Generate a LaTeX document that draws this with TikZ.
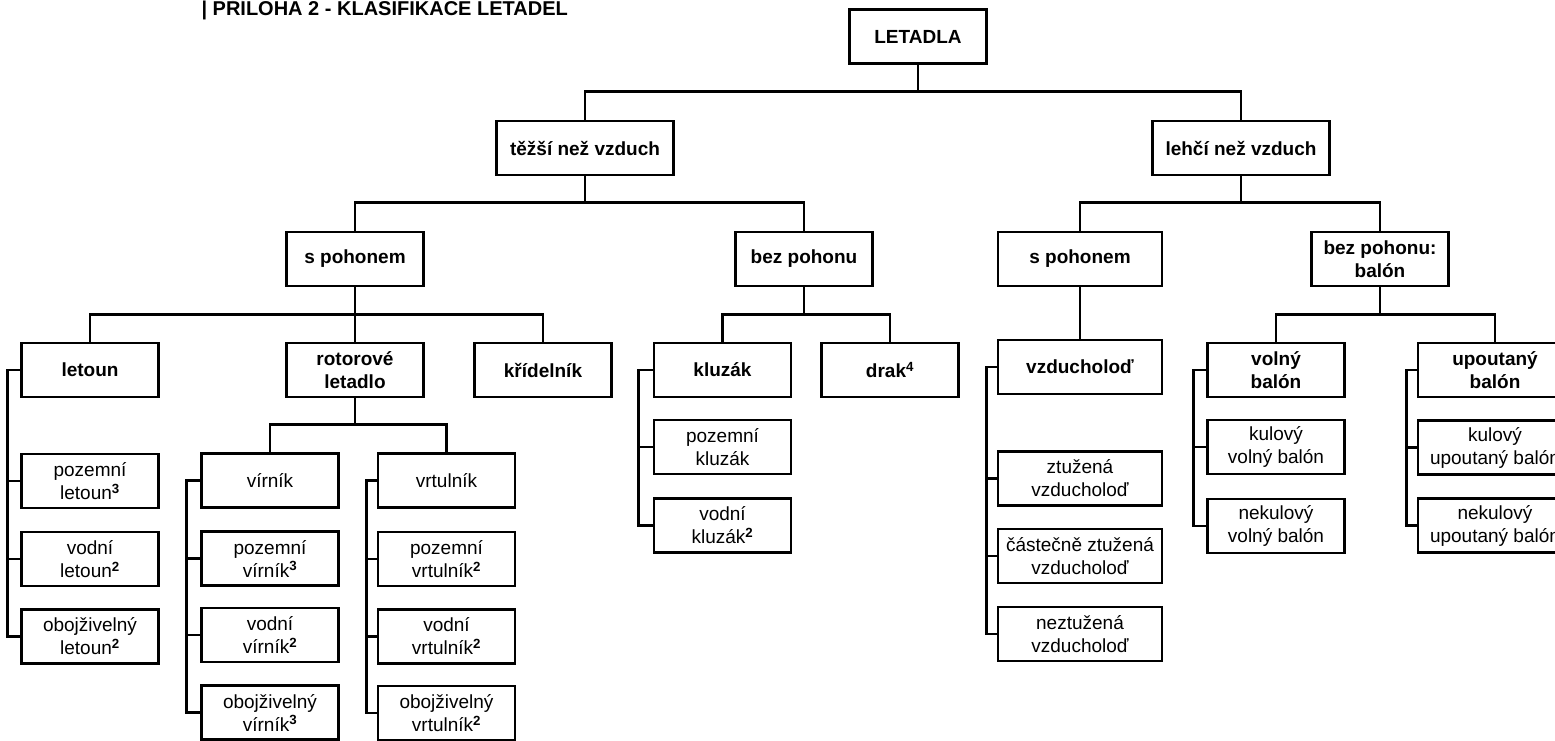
\documentclass[tikz,border=0pt]{standalone}
\usepackage{fontspec}
\setmainfont{Liberation Sans}
\newcommand{\fn}[1]{\textsuperscript{\bfseries #1}}

\begin{document}
\begin{tikzpicture}[x=1pt,y=-1pt,
        box/.style={draw, line width=2.8pt, minimum width=137pt, minimum height=54pt, inner sep=2pt, align=center, font=\fontsize{19}{23}\selectfont},
        head/.style={box, font=\fontsize{19}{23}\selectfont\bfseries},
        link/.style={line width=2.8pt}]
                \useasboundingbox (0,0) rectangle (1555,740);

                \node[anchor=base west, font=\fontsize{20}{24}\selectfont\bfseries] (titul) at (198,15) {| PŘÍLOHA 2 - KLASIFIKACE LETADEL};

                \node[head] (letadla) at (918,36.5) {LETADLA};
                \node[head, minimum width=177pt] (tezsi) at (585,148) {těžší než vzduch};
                \node[head, minimum width=177pt] (lehci) at (1241,148) {lehčí než vzduch};

                \node[head] (spohonemA) at (355,259) {s pohonem};
                \node[head] (bezpohonuA) at (804,259) {bez pohonu};
                \node[head, minimum width=164pt] (spohonemB) at (1080,259) {s pohonem};
                \node[head] (balon) at (1380,259) {bez pohonu:\\balón};

                \node[head] (letoun) at (90,370) {letoun};
                \node[head] (rotor) at (355,370) {rotorové\\letadlo};
                \node[head] (kridelnik) at (543,370) {křídelník};
                \node[head] (kluzak) at (722.5,370) {kluzák};
                \node[head] (drak) at (890,370) {drak\fn{4}};
                \node[head, minimum width=164pt] (vzducholod) at (1080,367) {vzducholoď};
                \node[head] (volny) at (1276,370) {volný\\balón};
                \node[head, minimum width=154pt] (upoutany) at (1495,370) {upoutaný\\balón};

                \node[box] (virnik) at (270,480.5) {vírník};
                \node[box] (vrtulnik) at (446.5,480.5) {vrtulník};

                \node[box] (pozletoun) at (90,481) {pozemní\\letoun\fn{3}};
                \node[box] (vodletoun) at (90,559) {vodní\\letoun\fn{2}};
                \node[box] (obojletoun) at (90,636.5) {obojživelný\\letoun\fn{2}};

                \node[box] (pozvirnik) at (270,558.5) {pozemní\\vírník\fn{3}};
                \node[box] (vodvirnik) at (270,635) {vodní\\vírník\fn{2}};
                \node[box] (obojvirnik) at (270,712.5) {obojživelný\\vírník\fn{3}};

                \node[box] (pozvrtulnik) at (446.5,559) {pozemní\\vrtulník\fn{2}};
                \node[box] (vodvrtulnik) at (446.5,636.5) {vodní\\vrtulník\fn{2}};
                \node[box] (obojvrtulnik) at (446.5,713) {obojživelný\\vrtulník\fn{2}};

                \node[box] (pozkluzak) at (722.5,447) {pozemní\\kluzák};
                \node[box] (vodkluzak) at (722.5,525.5) {vodní\\kluzák\fn{2}};

                \node[box, minimum width=164pt] (ztuzena) at (1080,478.5) {ztužená\\vzducholoď};
                \node[box, minimum width=164pt] (castecne) at (1080,556) {částečně ztužená\\vzducholoď};
                \node[box, minimum width=164pt] (neztuzena) at (1080,634) {neztužená\\vzducholoď};

                \node[box] (kulvolny) at (1276,447) {kulový\\volný balón};
                \node[box] (nekulvolny) at (1276,526) {nekulový\\volný balón};

                \node[box, minimum width=154pt] (kulupoutany) at (1495,447.5) {kulový\\upoutaný balón};
                \node[box, minimum width=154pt] (nekulupoutany) at (1495,525.5) {nekulový\\upoutaný balón};

                \foreach \c in {tezsi,lehci} \draw[link] (\c.north) -- ++(0,-28) -| (letadla.south);
                \foreach \c in {spohonemA,bezpohonuA} \draw[link] (\c.north) -- ++(0,-28) -| (tezsi.south);
                \foreach \c in {spohonemB,balon} \draw[link] (\c.north) -- ++(0,-28) -| (lehci.south);
                \foreach \c in {letoun,rotor,kridelnik} \draw[link] (\c.north) -- ++(0,-27) -| (spohonemA.south);
                \foreach \c in {kluzak,drak} \draw[link] (\c.north) -- ++(0,-27) -| (bezpohonuA.south);
                \draw[link] (spohonemB.south) -- (vzducholod.north);
                \foreach \c in {volny,upoutany} \draw[link] (\c.north) -- ++(0,-27) -| (balon.south);
                \foreach \c in {virnik,vrtulnik} \draw[link] (\c.north) -- ++(0,-28) -| (rotor.south);

                \foreach \c in {pozletoun,vodletoun,obojletoun} \draw[link] (letoun.west) -- ++(-13,0) |- (\c.west);
                \foreach \c in {pozvirnik,vodvirnik,obojvirnik} \draw[link] (virnik.west) -- ++(-14,0) |- (\c.west);
                \foreach \c in {pozvrtulnik,vodvrtulnik,obojvrtulnik} \draw[link] (vrtulnik.west) -- ++(-10,0) |- (\c.west);
                \foreach \c in {pozkluzak,vodkluzak} \draw[link] (kluzak.west) -- ++(-14,0) |- (\c.west);
                \foreach \c in {ztuzena,castecne,neztuzena} \draw[link] (vzducholod.west) -- ++(-10,0) |- (\c.west);
                \foreach \c in {kulvolny,nekulvolny} \draw[link] (volny.west) -- ++(-13,0) |- (\c.west);
                \foreach \c in {kulupoutany,nekulupoutany} \draw[link] (upoutany.west) -- ++(-10,0) |- (\c.west);
\end{tikzpicture}
\end{document}
